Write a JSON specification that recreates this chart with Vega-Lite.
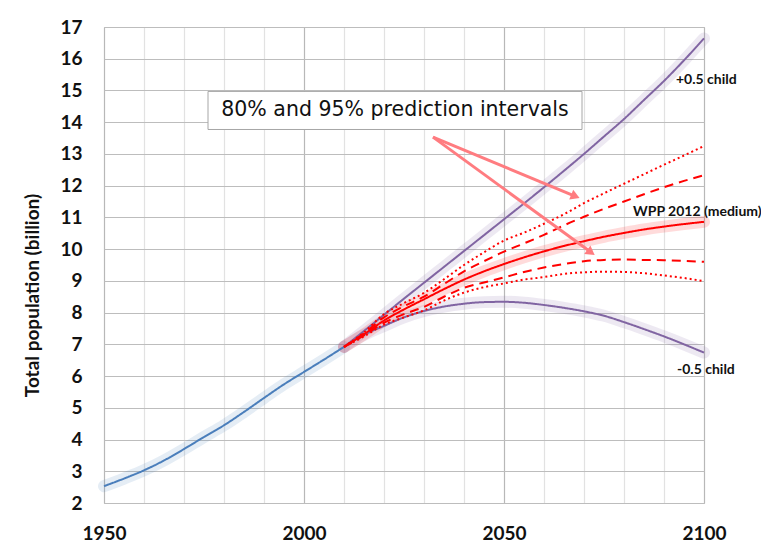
{
  "$schema": "https://vega.github.io/schema/vega-lite/v6.json",
  "width": 600,
  "height": 476,
  "autosize": {"type": "none"},
  "padding": {"left": 104, "top": 27, "right": 57, "bottom": 45},
  "background": "white",
  "config": {
    "view": {"stroke": "#bfbfbf", "strokeWidth": 1},
    "font": "Lato",
    "axis": {"labelOverlap": false, "labelFlush": false, "labelBound": false}
  },
  "resolve": {"axis": {"x": "independent", "y": "independent"}},
  "datasets": {
    "lines": [
      {"s": "Historical", "year": 1950, "v": 2.53}, {"s": "Historical", "year": 1955, "v": 2.77}, {"s": "Historical", "year": 1960, "v": 3.03}, {"s": "Historical", "year": 1965, "v": 3.34}, {"s": "Historical", "year": 1970, "v": 3.70}, {"s": "Historical", "year": 1975, "v": 4.08}, {"s": "Historical", "year": 1980, "v": 4.45}, {"s": "Historical", "year": 1985, "v": 4.87}, {"s": "Historical", "year": 1990, "v": 5.31}, {"s": "Historical", "year": 1995, "v": 5.74}, {"s": "Historical", "year": 2000, "v": 6.13}, {"s": "Historical", "year": 2005, "v": 6.52}, {"s": "Historical", "year": 2010, "v": 6.92},

      {"s": "+0.5 child", "year": 2010, "v": 6.92}, {"s": "+0.5 child", "year": 2015, "v": 7.42}, {"s": "+0.5 child", "year": 2020, "v": 7.93}, {"s": "+0.5 child", "year": 2025, "v": 8.44}, {"s": "+0.5 child", "year": 2030, "v": 8.94}, {"s": "+0.5 child", "year": 2035, "v": 9.44}, {"s": "+0.5 child", "year": 2040, "v": 9.94}, {"s": "+0.5 child", "year": 2045, "v": 10.44}, {"s": "+0.5 child", "year": 2050, "v": 10.94}, {"s": "+0.5 child", "year": 2055, "v": 11.44}, {"s": "+0.5 child", "year": 2060, "v": 11.95}, {"s": "+0.5 child", "year": 2065, "v": 12.47}, {"s": "+0.5 child", "year": 2070, "v": 13.0}, {"s": "+0.5 child", "year": 2075, "v": 13.55}, {"s": "+0.5 child", "year": 2080, "v": 14.1}, {"s": "+0.5 child", "year": 2085, "v": 14.7}, {"s": "+0.5 child", "year": 2090, "v": 15.3}, {"s": "+0.5 child", "year": 2095, "v": 15.95}, {"s": "+0.5 child", "year": 2100, "v": 16.64},

      {"s": "-0.5 child", "year": 2010, "v": 6.92}, {"s": "-0.5 child", "year": 2015, "v": 7.3}, {"s": "-0.5 child", "year": 2020, "v": 7.58}, {"s": "-0.5 child", "year": 2025, "v": 7.85}, {"s": "-0.5 child", "year": 2030, "v": 8.05}, {"s": "-0.5 child", "year": 2035, "v": 8.19}, {"s": "-0.5 child", "year": 2040, "v": 8.28}, {"s": "-0.5 child", "year": 2045, "v": 8.33}, {"s": "-0.5 child", "year": 2050, "v": 8.34}, {"s": "-0.5 child", "year": 2055, "v": 8.31}, {"s": "-0.5 child", "year": 2060, "v": 8.24}, {"s": "-0.5 child", "year": 2065, "v": 8.15}, {"s": "-0.5 child", "year": 2070, "v": 8.04}, {"s": "-0.5 child", "year": 2075, "v": 7.9}, {"s": "-0.5 child", "year": 2080, "v": 7.7}, {"s": "-0.5 child", "year": 2085, "v": 7.48}, {"s": "-0.5 child", "year": 2090, "v": 7.25}, {"s": "-0.5 child", "year": 2095, "v": 7.0}, {"s": "-0.5 child", "year": 2100, "v": 6.74},

      {"s": "95% upper", "year": 2010, "v": 6.92}, {"s": "95% upper", "year": 2015, "v": 7.38}, {"s": "95% upper", "year": 2020, "v": 7.95}, {"s": "95% upper", "year": 2025, "v": 8.3}, {"s": "95% upper", "year": 2030, "v": 8.62}, {"s": "95% upper", "year": 2035, "v": 9.05}, {"s": "95% upper", "year": 2040, "v": 9.5}, {"s": "95% upper", "year": 2045, "v": 9.9}, {"s": "95% upper", "year": 2050, "v": 10.27}, {"s": "95% upper", "year": 2055, "v": 10.52}, {"s": "95% upper", "year": 2060, "v": 10.8}, {"s": "95% upper", "year": 2065, "v": 11.1}, {"s": "95% upper", "year": 2070, "v": 11.45}, {"s": "95% upper", "year": 2075, "v": 11.76}, {"s": "95% upper", "year": 2080, "v": 12.06}, {"s": "95% upper", "year": 2085, "v": 12.36}, {"s": "95% upper", "year": 2090, "v": 12.66}, {"s": "95% upper", "year": 2095, "v": 12.95}, {"s": "95% upper", "year": 2100, "v": 13.25},

      {"s": "80% upper", "year": 2010, "v": 6.92}, {"s": "80% upper", "year": 2015, "v": 7.35}, {"s": "80% upper", "year": 2020, "v": 7.85}, {"s": "80% upper", "year": 2025, "v": 8.2}, {"s": "80% upper", "year": 2030, "v": 8.5}, {"s": "80% upper", "year": 2035, "v": 8.9}, {"s": "80% upper", "year": 2040, "v": 9.3}, {"s": "80% upper", "year": 2045, "v": 9.62}, {"s": "80% upper", "year": 2050, "v": 9.92}, {"s": "80% upper", "year": 2055, "v": 10.18}, {"s": "80% upper", "year": 2060, "v": 10.45}, {"s": "80% upper", "year": 2065, "v": 10.75}, {"s": "80% upper", "year": 2070, "v": 11.02}, {"s": "80% upper", "year": 2075, "v": 11.27}, {"s": "80% upper", "year": 2080, "v": 11.5}, {"s": "80% upper", "year": 2085, "v": 11.73}, {"s": "80% upper", "year": 2090, "v": 11.95}, {"s": "80% upper", "year": 2095, "v": 12.15}, {"s": "80% upper", "year": 2100, "v": 12.33},

      {"s": "WPP 2012 (medium)", "year": 2010, "v": 6.92}, {"s": "WPP 2012 (medium)", "year": 2015, "v": 7.32}, {"s": "WPP 2012 (medium)", "year": 2020, "v": 7.75}, {"s": "WPP 2012 (medium)", "year": 2025, "v": 8.1}, {"s": "WPP 2012 (medium)", "year": 2030, "v": 8.42}, {"s": "WPP 2012 (medium)", "year": 2035, "v": 8.74}, {"s": "WPP 2012 (medium)", "year": 2040, "v": 9.04}, {"s": "WPP 2012 (medium)", "year": 2045, "v": 9.3}, {"s": "WPP 2012 (medium)", "year": 2050, "v": 9.53}, {"s": "WPP 2012 (medium)", "year": 2055, "v": 9.74}, {"s": "WPP 2012 (medium)", "year": 2060, "v": 9.93}, {"s": "WPP 2012 (medium)", "year": 2065, "v": 10.1}, {"s": "WPP 2012 (medium)", "year": 2070, "v": 10.25}, {"s": "WPP 2012 (medium)", "year": 2075, "v": 10.39}, {"s": "WPP 2012 (medium)", "year": 2080, "v": 10.51}, {"s": "WPP 2012 (medium)", "year": 2085, "v": 10.62}, {"s": "WPP 2012 (medium)", "year": 2090, "v": 10.71}, {"s": "WPP 2012 (medium)", "year": 2095, "v": 10.79}, {"s": "WPP 2012 (medium)", "year": 2100, "v": 10.86},

      {"s": "80% lower", "year": 2010, "v": 6.92}, {"s": "80% lower", "year": 2015, "v": 7.28}, {"s": "80% lower", "year": 2020, "v": 7.68}, {"s": "80% lower", "year": 2025, "v": 7.95}, {"s": "80% lower", "year": 2030, "v": 8.18}, {"s": "80% lower", "year": 2035, "v": 8.5}, {"s": "80% lower", "year": 2040, "v": 8.78}, {"s": "80% lower", "year": 2045, "v": 8.95}, {"s": "80% lower", "year": 2050, "v": 9.11}, {"s": "80% lower", "year": 2055, "v": 9.28}, {"s": "80% lower", "year": 2060, "v": 9.42}, {"s": "80% lower", "year": 2065, "v": 9.53}, {"s": "80% lower", "year": 2070, "v": 9.62}, {"s": "80% lower", "year": 2075, "v": 9.66}, {"s": "80% lower", "year": 2080, "v": 9.67}, {"s": "80% lower", "year": 2085, "v": 9.66}, {"s": "80% lower", "year": 2090, "v": 9.65}, {"s": "80% lower", "year": 2095, "v": 9.63}, {"s": "80% lower", "year": 2100, "v": 9.6},

      {"s": "95% lower", "year": 2010, "v": 6.92}, {"s": "95% lower", "year": 2015, "v": 7.25}, {"s": "95% lower", "year": 2020, "v": 7.62}, {"s": "95% lower", "year": 2025, "v": 7.85}, {"s": "95% lower", "year": 2030, "v": 8.07}, {"s": "95% lower", "year": 2035, "v": 8.38}, {"s": "95% lower", "year": 2040, "v": 8.63}, {"s": "95% lower", "year": 2045, "v": 8.8}, {"s": "95% lower", "year": 2050, "v": 8.92}, {"s": "95% lower", "year": 2055, "v": 9.04}, {"s": "95% lower", "year": 2060, "v": 9.12}, {"s": "95% lower", "year": 2065, "v": 9.22}, {"s": "95% lower", "year": 2070, "v": 9.27}, {"s": "95% lower", "year": 2075, "v": 9.29}, {"s": "95% lower", "year": 2080, "v": 9.28}, {"s": "95% lower", "year": 2085, "v": 9.24}, {"s": "95% lower", "year": 2090, "v": 9.17}, {"s": "95% lower", "year": 2095, "v": 9.09}, {"s": "95% lower", "year": 2100, "v": 8.99}
    ],
    "labels": [
      {"label": "+0.5 child", "year": 2093, "v": 15.32},
      {"label": "WPP 2012 (medium)", "year": 2082.25, "v": 11.16},
      {"label": "-0.5 child", "year": 2093.25, "v": 6.19}
    ],
    "box": [
      {"label": "80% and 95% prediction intervals", "x1": 1976, "x2": 2069.5, "y1": 14.97, "y2": 13.77, "xm": 2022.75, "ym": 14.37}
    ],
    "arrows": [
      {"id": "a1", "x1": 2032.25, "y1": 13.53, "x2": 2067.85, "y2": 11.665},
      {"id": "a2", "x1": 2032.25, "y1": 13.53, "x2": 2071.75, "y2": 9.9}
    ]
  },
  "layer": [
    {
      "data": {"name": "lines"},
      "transform": [{"filter": "datum.s === 'Historical' || datum.s === '+0.5 child' || datum.s === '-0.5 child' || datum.s === 'WPP 2012 (medium)'"}],
      "mark": {"type": "line", "interpolate": "monotone", "strokeWidth": 12, "opacity": 0.14, "strokeCap": "round"},
      "encoding": {
        "x": {"field": "year", "type": "quantitative", "scale": {"domain": [1950, 2100], "nice": false, "zero": false},
          "axis": {"values": [1950, 1960, 1970, 1980, 1990, 2000, 2010, 2020, 2030, 2040, 2050, 2060, 2070, 2080, 2090, 2100],
            "labelExpr": "datum.value % 50 === 0 ? format(datum.value, 'd') : ''",
            "title": null, "domain": false, "ticks": false, "tickSize": 0, "labelPadding": 21, "labelBaseline": "top",
            "labelFont": "Lato", "labelFontWeight": "bold", "labelFontSize": 19, "labelColor": "#111",
            "grid": true, "gridColor": {"condition": {"test": "datum.value % 50 === 0", "value": "#b8b8b8"}, "value": "#e2e2e2"}, "gridWidth": 1.2,
            "labelFlush": false, "labelOverlap": false}},
        "y": {"field": "v", "type": "quantitative", "scale": {"domain": [2, 17], "nice": false, "zero": false},
          "axis": {"values": [2, 3, 4, 5, 6, 7, 8, 9, 10, 11, 12, 13, 14, 15, 16, 17],
            "title": "Total population (billion)", "titleFont": "Lato", "titleFontWeight": "bold", "titleFontSize": 19, "titleColor": "#111",
            "titleX": -66, "titleY": 268, "titleBaseline": "alphabetic", "titleAlign": "center",
            "domain": false, "ticks": false, "tickSize": 0, "labelPadding": 22,
            "labelFont": "Lato", "labelFontWeight": "bold", "labelFontSize": 19, "labelColor": "#111",
            "grid": true, "gridColor": "#bdbdbd", "gridWidth": 1.2, "labelFlush": false, "labelOverlap": false}},
        "color": {"field": "s", "type": "nominal", "legend": null,
          "scale": {"domain": ["Historical", "+0.5 child", "-0.5 child", "95% upper", "80% upper", "WPP 2012 (medium)", "80% lower", "95% lower"],
            "range": ["#4a7ebb", "#8064a2", "#8064a2", "#ff0000", "#ff0000", "#ff0000", "#ff0000", "#ff0000"]}}
      }
    },
    {
      "data": {"name": "lines"},
      "mark": {"type": "line", "interpolate": "monotone"},
      "encoding": {
        "x": {"field": "year", "type": "quantitative", "axis": null},
        "y": {"field": "v", "type": "quantitative", "axis": null},
        "color": {"field": "s", "type": "nominal", "legend": null,
          "scale": {"domain": ["Historical", "+0.5 child", "-0.5 child", "95% upper", "80% upper", "WPP 2012 (medium)", "80% lower", "95% lower"],
            "range": ["#4a7ebb", "#8064a2", "#8064a2", "#ff0000", "#ff0000", "#ff0000", "#ff0000", "#ff0000"]}},
        "strokeDash": {"field": "s", "type": "nominal", "legend": null,
          "scale": {"domain": ["Historical", "+0.5 child", "-0.5 child", "95% upper", "80% upper", "WPP 2012 (medium)", "80% lower", "95% lower"],
            "range": [[1, 0], [1, 0], [1, 0], [2, 3], [9, 6], [1, 0], [9, 6], [2, 3]]}},
        "size": {"field": "s", "type": "nominal", "legend": null,
          "scale": {"domain": ["Historical", "+0.5 child", "-0.5 child", "95% upper", "80% upper", "WPP 2012 (medium)", "80% lower", "95% lower"],
            "range": [2, 2, 2, 2, 2.5, 3.5, 2.5, 2]}}
      }
    },
    {
      "data": {"name": "labels"},
      "mark": {"type": "text", "align": "left", "baseline": "middle", "font": "Lato", "fontWeight": "bold", "fontSize": 14, "color": "#111"},
      "encoding": {
        "x": {"field": "year", "type": "quantitative", "axis": null},
        "y": {"field": "v", "type": "quantitative", "axis": null},
        "text": {"field": "label"}
      }
    },
    {
      "data": {"name": "box"},
      "mark": {"type": "rect", "fill": "#888", "opacity": 0.35, "xOffset": 3, "yOffset": 3},
      "encoding": {
        "x": {"field": "x1", "type": "quantitative", "axis": null}, "x2": {"field": "x2"},
        "y": {"field": "y1", "type": "quantitative", "axis": null}, "y2": {"field": "y2"}
      }
    },
    {
      "data": {"name": "box"},
      "mark": {"type": "rect", "fill": "white", "stroke": "#a6a6a6", "strokeWidth": 1},
      "encoding": {
        "x": {"field": "x1", "type": "quantitative", "axis": null}, "x2": {"field": "x2"},
        "y": {"field": "y1", "type": "quantitative", "axis": null}, "y2": {"field": "y2"}
      }
    },
    {
      "data": {"name": "box"},
      "mark": {"type": "text", "align": "center", "baseline": "middle", "font": "DejaVu Sans", "fontSize": 20.5, "color": "#111"},
      "encoding": {
        "x": {"field": "xm", "type": "quantitative", "axis": null},
        "y": {"field": "ym", "type": "quantitative", "axis": null},
        "text": {"field": "label"}
      }
    },
    {
      "data": {"name": "arrows"},
      "mark": {"type": "rule", "color": "#ff7c80", "strokeWidth": 3},
      "encoding": {
        "x": {"field": "x1", "type": "quantitative", "axis": null}, "x2": {"field": "x2"},
        "y": {"field": "y1", "type": "quantitative", "axis": null}, "y2": {"field": "y2"}
      }
    },
    {
      "data": {"name": "arrows"},
      "transform": [{"filter": "datum.id === 'a1'"}],
      "mark": {"type": "point", "shape": "triangle-right", "filled": true, "color": "#ff7c80", "opacity": 1, "size": 110, "angle": 22.5},
      "encoding": {
        "x": {"field": "x2", "type": "quantitative", "axis": null},
        "y": {"field": "y2", "type": "quantitative", "axis": null}
      }
    },
    {
      "data": {"name": "arrows"},
      "transform": [{"filter": "datum.id === 'a2'"}],
      "mark": {"type": "point", "shape": "triangle-right", "filled": true, "color": "#ff7c80", "opacity": 1, "size": 110, "angle": 36},
      "encoding": {
        "x": {"field": "x2", "type": "quantitative", "axis": null},
        "y": {"field": "y2", "type": "quantitative", "axis": null}
      }
    }
  ]
}
